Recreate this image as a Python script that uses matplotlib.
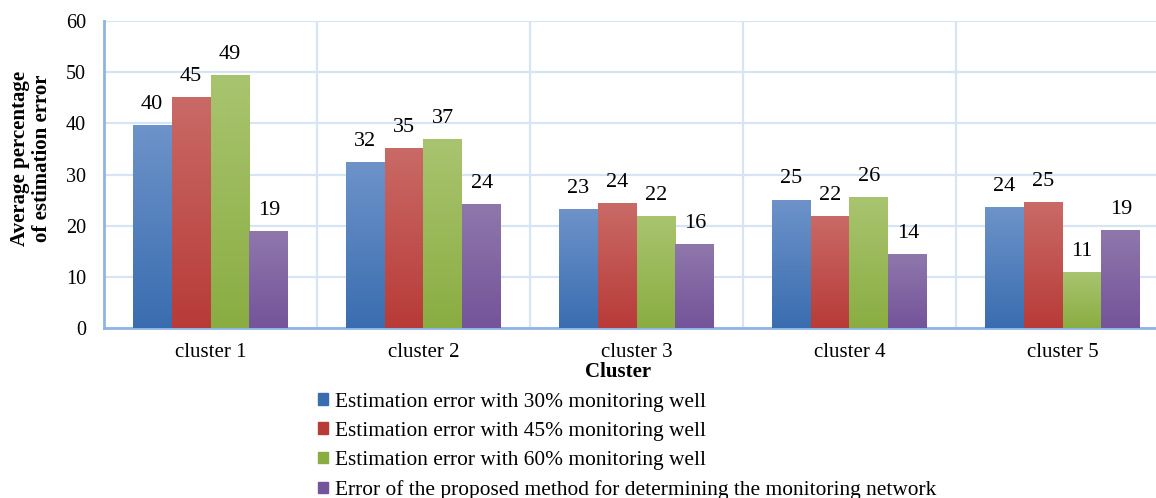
import numpy as np
from matplotlib import pyplot as plt
from matplotlib.colors import LinearSegmentedColormap
from matplotlib.patches import Patch

plt.rcParams['font.family'] = ['Liberation Serif', 'DejaVu Serif']

clusters = ['cluster 1', 'cluster 2', 'cluster 3', 'cluster 4', 'cluster 5']
err_30 = [39.6, 32.4, 23.2, 25.1, 23.6]
err_45 = [45.1, 35.2, 24.4, 21.9, 24.6]
err_60 = [49.4, 36.9, 21.9, 25.6, 10.9]
err_proposed = [18.9, 24.2, 16.4, 14.4, 19.1]
series_names = ['Estimation error with 30% monitoring well',
                'Estimation error with 45% monitoring well',
                'Estimation error with 60% monitoring well',
                'Error of the proposed method for determining the monitoring network']

# (top colour, bottom colour) for each series gradient
grads = [('#6d93c9', '#3a6db0'),
         ('#c96a66', '#b83b38'),
         ('#a9c46f', '#8aad42'),
         ('#8f77ab', '#74549a')]

fig = plt.figure(figsize=(11.56, 4.98), dpi=100)
ax = fig.add_axes([104/1156, 1 - 328/498, 1065/1156, 307/498])

x = np.arange(len(clusters))
w = 0.183
data = [err_30, err_45, err_60, err_proposed]
grad_img = np.linspace(1, 0, 100).reshape(-1, 1)

for i, vals in enumerate(data):
    cmap = LinearSegmentedColormap.from_list('g%d' % i, [grads[i][1], grads[i][0]])
    bars = ax.bar(x + (i - 1.5) * w, vals, w, color=grads[i][1], zorder=2)
    for b, v in zip(bars, vals):
        bx, by = b.get_x(), b.get_y()
        bw, bh = b.get_width(), b.get_height()
        im = ax.imshow(grad_img, cmap=cmap, aspect='auto', zorder=3,
                       extent=[bx, bx + bw, by, by + bh], interpolation='bicubic')
        im.set_clip_path(b)
        ax.annotate('%.0f' % v, (bx + bw / 2, by + bh), xytext=(0, 8),
                    textcoords='offset points', ha='center', va='bottom',
                    fontsize=16, zorder=4)

ax.set_xlim(-0.5, len(clusters) - 0.5)
ax.set_ylim(0, 60)
ax.set_yticks(range(0, 61, 10))
ax.set_xticks(x)
ax.set_xticklabels(clusters)
ax.set_xticks(x[:-1] + 0.5, minor=True)
ax.tick_params(axis='both', which='both', length=0, labelsize=14.5)
ax.tick_params(axis='x', labelsize=15, pad=11)
ax.tick_params(axis='y', pad=13)

ax.grid(axis='y', which='major', color='#d6e4f4', lw=1.6, zorder=0)
ax.grid(axis='x', which='minor', color='#d6e4f4', lw=1.6, zorder=0)
for s in ['top', 'right']:
    ax.spines[s].set_visible(False)
for s in ['left', 'bottom']:
    ax.spines[s].set_color('#8eb4e3')
    ax.spines[s].set_linewidth(2)

fig.text(618/1156, 1 - 372/498, 'Cluster', ha='center', va='center',
         fontsize=15, fontweight='bold')
fig.text(31/1156, 1 - 158/498, 'Average percentage\nof estimation error', rotation=90,
         ha='center', va='center', fontsize=15, fontweight='bold', linespacing=1.1)

handles = [Patch(color=grads[i][1]) for i in range(4)]
fig.legend(handles, series_names, loc='upper left', bbox_to_anchor=(318/1156, 1 - 393/498),
           frameon=False, fontsize=15.4, handlelength=0.48, handleheight=0.48,
           handletextpad=0.3, labelspacing=0.47, borderpad=0, borderaxespad=0)

plt.savefig('out.png', dpi=100)
